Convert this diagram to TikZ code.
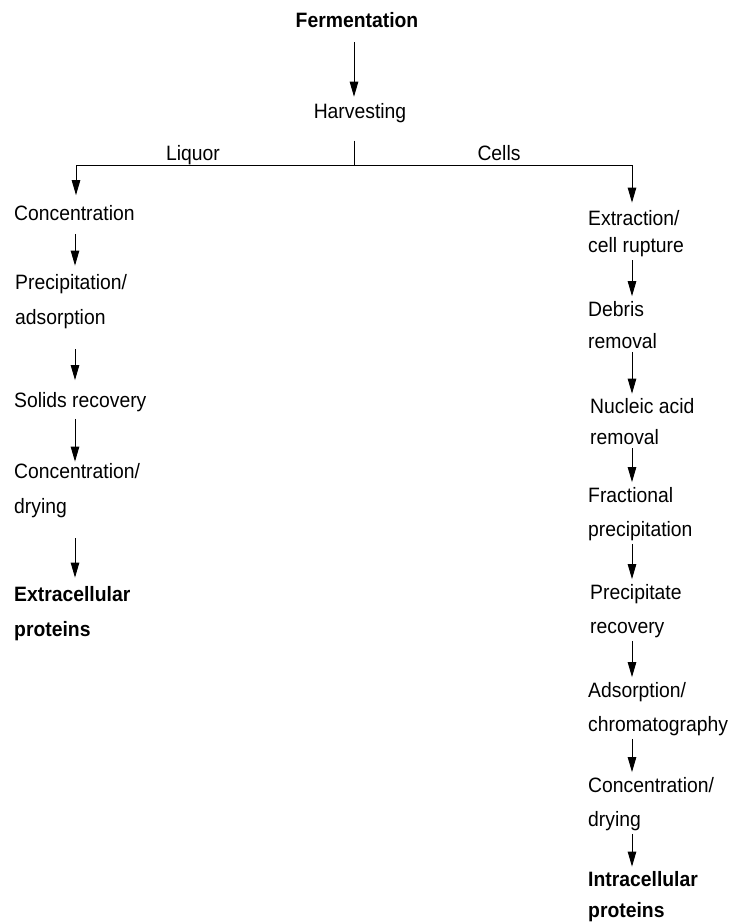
\documentclass[tikz,border=0pt]{standalone}
\usepackage{fontspec}
\setmainfont{Liberation Sans}[FakeStretch=0.93]
\usetikzlibrary{arrows.meta}
\begin{document}
\begin{tikzpicture}[x=1pt,y=-1pt,
  lblL/.style={anchor=west,inner sep=0pt,align=left,font=\fontsize{20.8}{35}\selectfont},
  lblR/.style={anchor=west,inner sep=0pt,align=left,font=\fontsize{20.8}{34}\selectfont},
  ctr/.style={anchor=base,inner sep=0pt,font=\fontsize{20.8}{33}\selectfont},
  arr/.style={line width=0.9pt,-{Triangle[length=15pt,width=8.5pt]},shorten <=13pt,shorten >=9pt},
  arrR/.style={arr,shorten <=3pt,shorten >=5pt},
  ln/.style={line width=0.9pt}]
\useasboundingbox (0,0) rectangle (728,923);

% top
\node[ctr,font=\fontsize{20.8}{33}\selectfont\bfseries] (ferm) at (357,28) {Fermentation};
\node[ctr] (harv) at (360,118) {Harvesting};
\node[ctr] (liq) at (193,160) {Liquor};
\node[ctr] (cells) at (499,160) {Cells};

\coordinate (hub) at (354,165);
\coordinate (Lc) at (76,165);
\coordinate (Rc) at (632,165);

% left column
\node[lblL] (conc) at (14,213) {Concentration};
\node[lblL] (prec) at (15,302) {Precipitation/\\adsorption};
\node[lblL] (solid) at (14,402) {Solids recovery};
\node[lblL] (cdry) at (14,491) {Concentration/\\drying};
\node[lblL,font=\fontsize{20.8}{35}\selectfont\bfseries] (extra) at (14,614) {Extracellular\\proteins};

% right column
\node[lblR,font=\fontsize{20.8}{27}\selectfont] (extr) at (588,234) {Extraction/\\cell rupture};
\node[lblR,font=\fontsize{20.8}{32}\selectfont] (debr) at (588,325) {Debris\\removal};
\node[lblR,font=\fontsize{20.8}{31}\selectfont] (nucl) at (590,422) {Nucleic acid\\removal};
\node[lblR] (frac) at (588,514) {Fractional\\precipitation};
\node[lblR] (prrec) at (590,611) {Precipitate\\recovery};
\node[lblR] (adso) at (588,709) {Adsorption/\\chromatography};
\node[lblR] (cdry2) at (588,804) {Concentration/\\drying};
\node[lblR,font=\fontsize{20.8}{31}\selectfont\bfseries] (intra) at (588,897) {Intracellular\\proteins};

% top connectors
\draw[arr,shorten <=14pt,shorten >=6pt] (ferm.south -| hub) -- (harv.north -| hub);
\draw[ln,shorten <=18pt] (harv.south -| hub) -- (hub);
\draw[ln] (Lc) -- (Rc);
\draw[arr,shorten <=0pt,shorten >=10pt] (Lc) -- (conc.north -| Lc);
\draw[arr,shorten <=0pt,shorten >=8pt] (Rc) -- (extr.north -| Rc);

% left column connectors
\coordinate (Lx) at (75,0);
\draw[arr] (conc.south -| Lx) -- (prec.north -| Lx);
\draw[arr,shorten <=20pt,shorten >=12pt] (prec.south -| Lx) -- (solid.north -| Lx);
\draw[arr,shorten <=7pt,shorten >=2pt] (solid.south -| Lx) -- (cdry.north -| Lx);
\draw[arr,shorten <=20pt,shorten >=9pt] (cdry.south -| Lx) -- (extra.north -| Lx);

% right column connectors
\coordinate (Rx) at (632,0);
\draw[arrR] (extr.south -| Rx) -- (debr.north -| Rx);
\draw[arrR] (debr.south -| Rx) -- (nucl.north -| Rx);
\draw[arrR] (nucl.south -| Rx) -- (frac.north -| Rx);
\draw[arrR] (frac.south -| Rx) -- (prrec.north -| Rx);
\draw[arrR] (prrec.south -| Rx) -- (adso.north -| Rx);
\draw[arrR] (adso.south -| Rx) -- (cdry2.north -| Rx);
\draw[arrR] (cdry2.south -| Rx) -- (intra.north -| Rx);
\end{tikzpicture}
\end{document}
